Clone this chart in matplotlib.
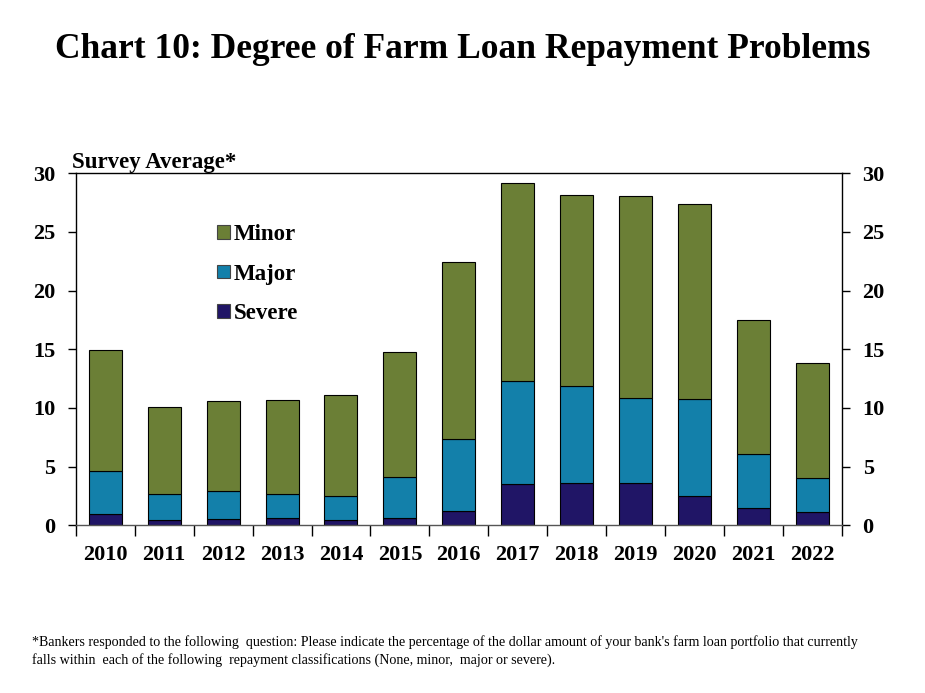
import matplotlib
matplotlib.use("Agg")
import matplotlib.pyplot as plt
import numpy as np

years = ["2010", "2011", "2012", "2013", "2014", "2015", "2016",
         "2017", "2018", "2019", "2020", "2021", "2022"]
severe = [0.97, 0.46, 0.54, 0.63, 0.46, 0.63, 1.22, 3.53, 3.62, 3.62, 2.53, 1.48, 1.14]
major = [3.67, 2.22, 2.36, 2.05, 2.04, 3.47, 6.15, 8.80, 8.28, 7.23, 8.23, 4.58, 2.93]
minor = [10.28, 7.40, 7.69, 7.99, 8.57, 10.67, 15.03, 16.82, 16.28, 17.25, 16.60, 11.42, 9.79]

colors = {"minor": "#6B7F36", "major": "#1380AA", "severe": "#201566"}

plt.rcParams["font.family"] = ["Liberation Serif", "DejaVu Serif"]

fig = plt.figure(figsize=(9.25, 6.93), dpi=100)
ax = fig.add_axes([0.082, 0.242, 0.828, 0.508])

x = np.arange(len(years))
width = 0.56
edge = dict(edgecolor="black", linewidth=0.8)
b1 = ax.bar(x, severe, width, color=colors["severe"], label="Severe", **edge)
bottom2 = np.array(severe)
b2 = ax.bar(x, major, width, bottom=bottom2, color=colors["major"], label="Major", **edge)
bottom3 = bottom2 + np.array(major)
b3 = ax.bar(x, minor, width, bottom=bottom3, color=colors["minor"], label="Minor", **edge)

ax.set_xlim(-0.5, len(years) - 0.5)
ax.set_ylim(0, 30)
ax.set_yticks(range(0, 31, 5))

# year labels centred under bars, tick marks between categories
ax.set_xticks(x)
ax.set_xticklabels(years, fontsize=16, fontweight="bold")
ax.set_xticks(np.arange(-0.5, len(years), 1), minor=True)
ax.tick_params(axis="x", which="major", length=0, pad=14)
ax.tick_params(axis="x", which="minor", direction="out", length=8, width=1)
ax.tick_params(axis="y", direction="out", length=6, width=1, labelsize=16,
               right=True, labelright=True, pad=9)
for t in ax.yaxis.get_major_ticks():
    t.label1.set_fontweight("bold")
    t.label2.set_fontweight("bold")

for s in ax.spines.values():
    s.set_linewidth(1)
ax.spines["bottom"].set_color("#555555")

ax.text(-0.005, 1.0, "Survey Average*", transform=ax.transAxes, ha="left",
        va="bottom", fontsize=16.5, fontweight="bold")

leg = ax.legend(handles=[b3, b2, b1], labels=["Minor", "Major", "Severe"],
                loc="upper left", bbox_to_anchor=(0.158, 0.915), frameon=False,
                prop={"size": 16.5, "weight": "bold"}, handlelength=0.55,
                handleheight=0.55, handletextpad=0.15, labelspacing=0.82)
for h in leg.legend_handles:
    h.set_edgecolor("#444444")

fig.text(0.5, 0.928, "Chart 10: Degree of Farm Loan Repayment Problems",
         ha="center", va="center", fontsize=25.5, fontweight="bold")

fig.text(0.035, 0.0606,
         "*Bankers responded to the following  question: Please indicate the percentage of the dollar amount of your bank's farm loan portfolio that currently\n"
         "falls within  each of the following  repayment classifications (None, minor,  major or severe).",
         ha="left", va="center", fontsize=10.1, linespacing=1.35)

fig.savefig("out.png", dpi=100)
